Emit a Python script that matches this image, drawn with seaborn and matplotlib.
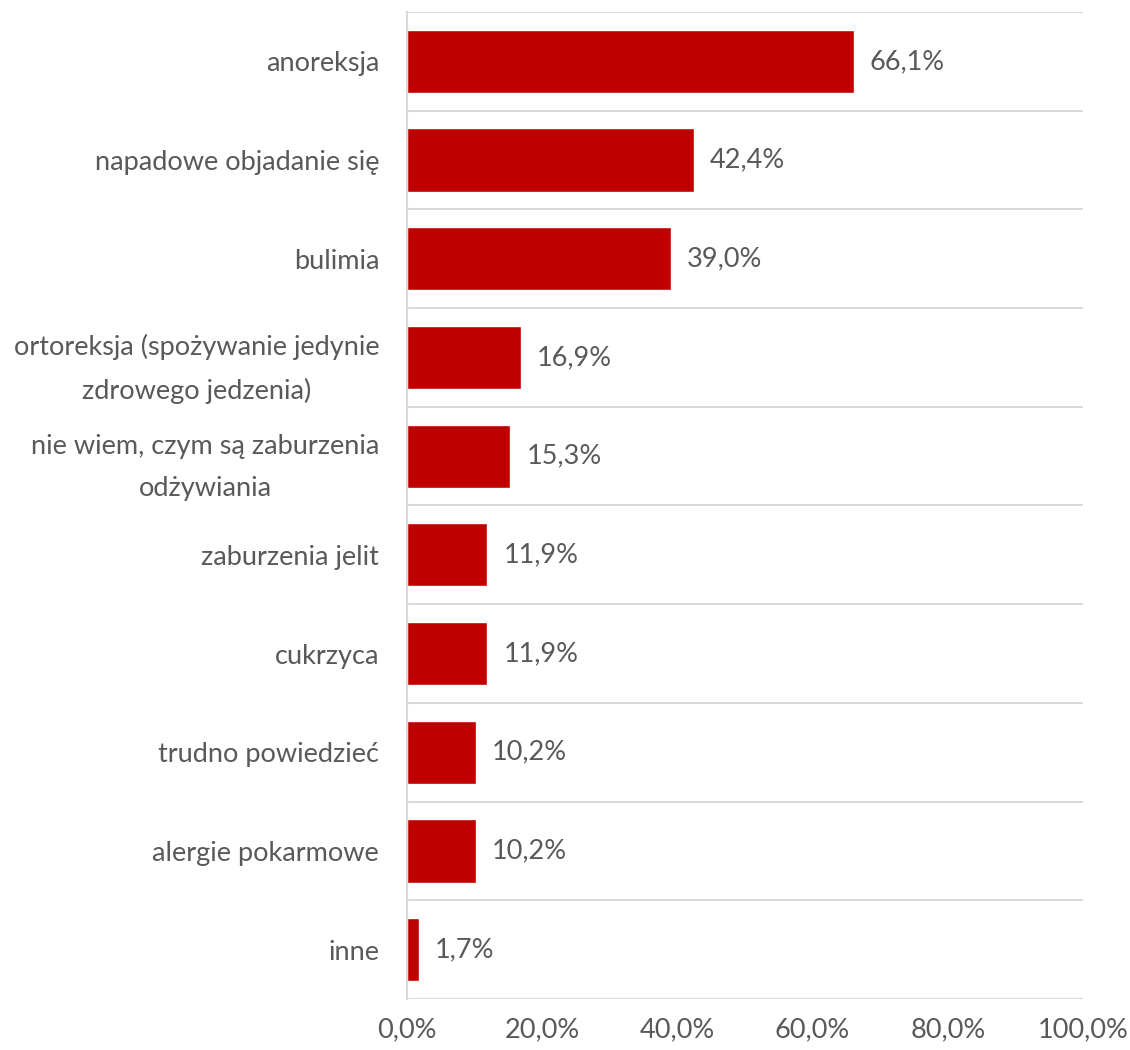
import numpy as np
import pandas as pd
import seaborn as sns
import matplotlib.pyplot as plt
from matplotlib.ticker import FixedLocator, FuncFormatter

categories = ["anoreksja", "napadowe objadanie się", "bulimia",
              "ortoreksja (spożywanie jedynie\nzdrowego jedzenia)",
              "nie wiem, czym są zaburzenia\nodżywiania",
              "zaburzenia jelit", "cukrzyca", "trudno powiedzieć",
              "alergie pokarmowe", "inne"]
values = [66.1, 42.4, 39.0, 16.9, 15.3, 11.9, 11.9, 10.2, 10.2, 1.7]
xticks = [0, 20, 40, 60, 80, 100]

df = pd.DataFrame({"kategoria": categories, "procent": values})

sns.set_theme(style="white")
plt.rcParams['font.family'] = ['Lato', 'DejaVu Sans']
txt = "#595959"
grid = "#D9D9D9"
fs = 19.5

fig = plt.figure(figsize=(11.3, 10.5), dpi=100)
ax = fig.add_axes([0.3602, 0.0486, 0.5982, 0.94])

sns.barplot(data=df, y="kategoria", x="procent", orient="h", color="#C00000",
            saturation=1, width=0.64, ax=ax)

for c in ax.containers:
    ax.bar_label(c, labels=[f"{v:.1f}%".replace(".", ",") for v in values],
                 padding=11.5, fontsize=fs, color=txt)

ax.set_xlim(0, 100)
ax.set_ylim(len(categories) - 0.5, -0.5)
ax.set_xticks(xticks)
ax.xaxis.set_major_formatter(FuncFormatter(lambda v, p: f"{v:.1f}%".replace(".", ",")))
ax.yaxis.set_minor_locator(FixedLocator(np.arange(-0.5, len(categories), 1)))
ax.grid(which="minor", axis="y", color=grid, linewidth=1.5)
ax.grid(which="major", visible=False)
ax.tick_params(axis="both", which="both", length=0)
ax.tick_params(axis="x", pad=13, labelsize=fs, labelcolor=txt)
ax.tick_params(axis="y", pad=20, labelsize=fs, labelcolor=txt)
for lbl in ax.get_yticklabels():
    lbl.set_multialignment("center")
    lbl.set_linespacing(1.85)
ax.set_xlabel("")
ax.set_ylabel("")
for s in ["top", "right", "bottom"]:
    ax.spines[s].set_visible(False)
ax.spines["left"].set_color(grid)
ax.spines["left"].set_linewidth(1.5)

fig.savefig("out.png", dpi=100)
